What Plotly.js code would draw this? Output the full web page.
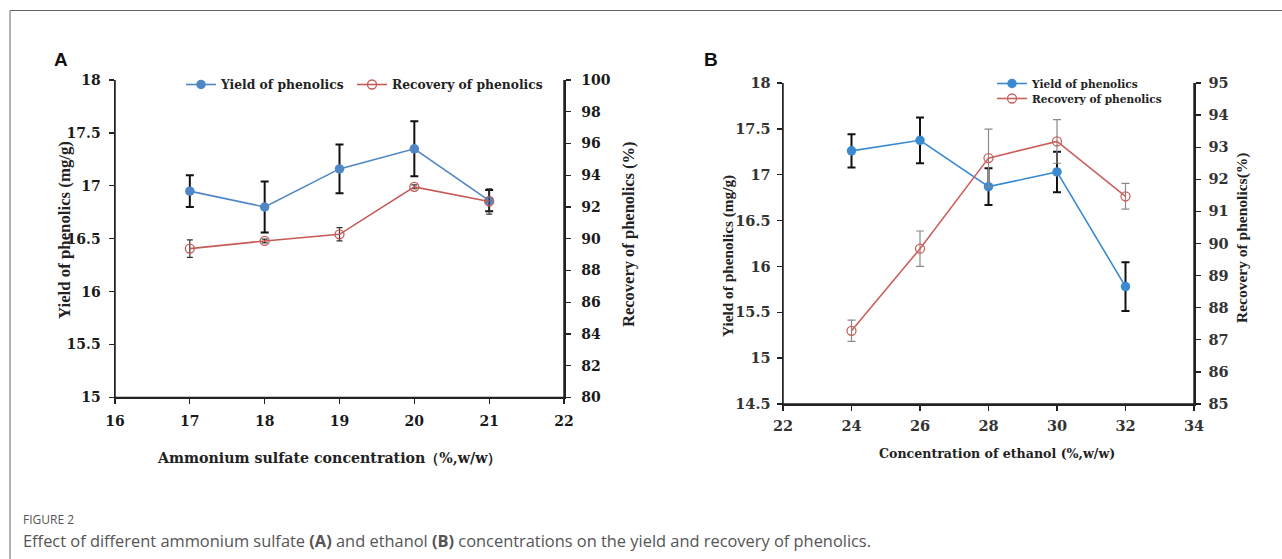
<!DOCTYPE html>
<html>
<head>
<meta charset="utf-8">
<script src="https://cdn.plot.ly/plotly-3.0.1.min.js"></script>
<style>
  html, body { margin: 0; padding: 0; background: #fff; }
  #chart { width: 1282px; height: 559px; }
</style>
</head>
<body>
<div id="chart"></div>
<script>
// ---------- Data ----------
// Panel A: ammonium sulfate concentration (%, w/w)
const ammoniumSulfate = [17, 18, 19, 20, 21];
const yieldA = [16.95, 16.80, 17.16, 17.35, 16.86];
const yieldAErr = [0.15, 0.24, 0.23, 0.26, 0.10];
const recoveryA = [89.38, 89.86, 90.28, 93.27, 92.35];
const recoveryAErr = [0.55, 0.12, 0.42, 0.12, 0.80];

// Panel B: ethanol concentration (%, w/w)
const ethanol = [24, 26, 28, 30, 32];
const yieldB = [17.26, 17.375, 16.87, 17.03, 15.78];
const yieldBErr = [0.18, 0.25, 0.20, 0.22, 0.265];
const recoveryB = [87.28, 89.84, 92.66, 93.18, 91.47];
const recoveryBErr = [0.33, 0.55, 0.90, 0.68, 0.40];

// Tick labels
const xTicksA = [16, 17, 18, 19, 20, 21, 22];
const yTicksA = [15, 15.5, 16, 16.5, 17, 17.5, 18];
const y2TicksA = [80, 82, 84, 86, 88, 90, 92, 94, 96, 98, 100];
const xTicksB = [22, 24, 26, 28, 30, 32, 34];
const yTicksB = [14.5, 15, 15.5, 16, 16.5, 17, 17.5, 18];
const y2TicksB = [85, 86, 87, 88, 89, 90, 91, 92, 93, 94, 95];

const seriesNames = ['Yield of phenolics', 'Recovery of phenolics'];

// ---------- Layout helpers ----------
const W = 1282, H = 559;
const px = x => x / W;
const py = y => 1 - y / H;
const SERIF = '"Liberation Serif", "Times New Roman", serif';
const WIDE = '"DejaVu Serif", "Liberation Serif", serif';
const SANS = '"Open Sans", "Noto Sans", sans-serif';

const blueA = '#4f86c6', redA = '#c55a57';
const blueB = '#3a8ad2', redB = '#c9615e';

const traces = [
  {
    x: ammoniumSulfate, y: yieldA, name: seriesNames[0], type: 'scatter', mode: 'lines+markers',
    xaxis: 'x', yaxis: 'y', legend: 'legend',
    line: { color: blueA, width: 1.6 },
    marker: { color: blueA, size: 9.5, symbol: 'circle' },
    error_y: { type: 'data', array: yieldAErr, visible: true, color: '#111', thickness: 2, width: 4 }
  },
  {
    x: ammoniumSulfate, y: recoveryA, name: seriesNames[1], type: 'scatter', mode: 'lines+markers',
    xaxis: 'x', yaxis: 'y2', legend: 'legend2',
    line: { color: redA, width: 1.6 },
    marker: { color: redA, size: 9, symbol: 'circle-open', line: { width: 1.3 } },
    error_y: { type: 'data', array: recoveryAErr, visible: true, color: '#333', thickness: 1.2, width: 3 }
  },
  {
    x: ethanol, y: yieldB, name: seriesNames[0], type: 'scatter', mode: 'lines+markers',
    xaxis: 'x2', yaxis: 'y3', legend: 'legend3',
    line: { color: blueB, width: 1.6 },
    marker: { color: blueB, size: 9.5, symbol: 'circle' },
    error_y: { type: 'data', array: yieldBErr, visible: true, color: '#111', thickness: 2, width: 4 }
  },
  {
    x: ethanol, y: recoveryB, name: seriesNames[1], type: 'scatter', mode: 'lines+markers',
    xaxis: 'x2', yaxis: 'y4', legend: 'legend4',
    line: { color: redB, width: 1.6 },
    marker: { color: redB, size: 9, symbol: 'circle-open', line: { width: 1.3 } },
    error_y: { type: 'data', array: recoveryBErr, visible: true, color: '#8a8a8a', thickness: 1.2, width: 4 }
  }
];

function axis(extra) {
  return Object.assign({
    showgrid: false, zeroline: false, showline: true, linecolor: '#222', linewidth: 1.5,
    ticks: 'outside', ticklen: 5, tickwidth: 1.3, tickcolor: '#222',
    tickfont: { family: WIDE, size: 14, color: '#1a1a1a', weight: 'bold' },
    tickmode: 'array', fixedrange: true
  }, extra);
}
const tickFontB = { family: WIDE, size: 14.5, color: '#333', weight: 'bold' };

function legendAt(x, yTop, size) {
  return {
    orientation: 'v', x: px(x), y: py(yTop), xanchor: 'left', yanchor: 'top',
    bgcolor: 'rgba(0,0,0,0)', borderwidth: 0,
    font: { family: WIDE, size: size, color: '#222', weight: 'bold' },
    itemclick: false, itemdoubleclick: false
  };
}

// Axis frame lines (left, bottom, right) drawn on each panel's axis domain
function frame(xr, yr) {
  const ln = { color: '#222', width: 1.5 };
  return [
    { type: 'line', xref: xr + ' domain', yref: yr + ' domain', x0: 0, x1: 0, y0: 0, y1: 1, line: ln, layer: 'below' },
    { type: 'line', xref: xr + ' domain', yref: yr + ' domain', x0: 0, x1: 1, y0: 0, y1: 0, line: ln, layer: 'below' },
    { type: 'line', xref: xr + ' domain', yref: yr + ' domain', x0: 1, x1: 1, y0: 0, y1: 1, line: ln, layer: 'below' }
  ];
}

const layout = {
  width: W, height: H,
  margin: { l: 0, r: 0, t: 0, b: 0 },
  paper_bgcolor: '#fff', plot_bgcolor: 'rgba(0,0,0,0)',
  showlegend: true,
  xaxis: axis({ domain: [px(115), px(564)], range: [16, 22], anchor: 'y', ticklabelstandoff: 5,
    tickvals: xTicksA, ticktext: xTicksA.map(String) }),
  yaxis: axis({ domain: [py(397.5), py(80)], range: [15, 18], anchor: 'x', ticklabelstandoff: 5,
    tickvals: yTicksA, ticktext: yTicksA.map(String) }),
  yaxis2: axis({ domain: [py(397.5), py(80)], range: [80, 100], anchor: 'x', overlaying: 'y', side: 'right',
    ticklabelstandoff: 8, tickvals: y2TicksA, ticktext: y2TicksA.map(String) }),
  xaxis2: axis({ domain: [px(783), px(1194)], range: [22, 34], anchor: 'y3', ticklabelstandoff: 3,
    tickvals: xTicksB, ticktext: xTicksB.map(String), tickfont: tickFontB }),
  yaxis3: axis({ domain: [py(404), py(83)], range: [14.5, 18], anchor: 'x2', ticklabelstandoff: 3,
    tickvals: yTicksB, ticktext: yTicksB.map(String), tickfont: tickFontB }),
  yaxis4: axis({ domain: [py(404), py(83)], range: [85, 95], anchor: 'x2', overlaying: 'y3', side: 'right',
    ticklabelstandoff: 5, tickvals: y2TicksB, ticktext: y2TicksB.map(String), tickfont: tickFontB }),
  legend: legendAt(181, 70, 12.3),
  legend2: legendAt(352, 70, 12.3),
  legend3: legendAt(992, 69, 10.6),
  legend4: legendAt(992, 84, 10.6),
  shapes: [
    { type: 'line', xref: 'paper', yref: 'paper', x0: px(10), x1: 1.01, y0: py(10.5), y1: py(10.5),
      line: { color: '#666', width: 1 } },
    { type: 'line', xref: 'paper', yref: 'paper', x0: px(10), x1: px(10), y0: py(10.5), y1: -0.01,
      line: { color: '#666', width: 1 } }
  ].concat(frame('x', 'y'), frame('x2', 'y3')),
  annotations: [
    // Panel letters
    { text: '<b>A</b>', x: px(61), y: py(59) },
    { text: '<b>B</b>', x: px(711), y: py(59) },
  ].map(a => Object.assign(a, { xref: 'paper', yref: 'paper', xanchor: 'center', yanchor: 'middle', showarrow: false,
      font: { family: '"Liberation Sans", Arial, sans-serif', size: 19, color: '#111' } })).concat([
    // Panel A axis titles
    { text: '<b>Ammonium sulfate concentration（%,w/w）</b>', x: px(329), y: py(458), size: 14.2, fam: WIDE },
    { text: '<b>Yield of phenolics (mg/g)</b>', x: px(64), y: py(230), size: 16.8, textangle: -90, fam: SERIF },
    { text: '<b>Recovery of phenolics (%)</b>', x: px(628), y: py(234), size: 16.5, textangle: -90, fam: SERIF },
    // Panel B axis titles
    { text: '<b>Concentration of ethanol (%,w/w)</b>', x: px(997), y: py(453), size: 12.6, fam: WIDE },
    { text: '<b>Yield of phenolics (mg/g)</b>', x: px(728), y: py(256), size: 15.3, textangle: -90, fam: SERIF },
    { text: '<b>Recovery of phenolics(%)</b>', x: px(1242), y: py(238), size: 15.5, textangle: -90, fam: SERIF }
  ].map(a => {
    const s = a.size, f = a.fam; delete a.size; delete a.fam;
    return Object.assign(a, { xref: 'paper', yref: 'paper', xanchor: 'center', yanchor: 'middle', showarrow: false,
      font: { family: f, size: s, color: '#222' } });
  })).concat([
    // Caption
    { text: 'FIGURE 2', x: px(21), y: py(519), size: 12 },
    { text: 'Effect of different ammonium sulfate <b>(A)</b> and ethanol <b>(B)</b> concentrations on the yield and recovery of phenolics.',
      x: px(21), y: py(540), size: 16.4 }
  ].map(a => {
    const s = a.size; delete a.size;
    return Object.assign(a, { xref: 'paper', yref: 'paper', xanchor: 'left', yanchor: 'middle', showarrow: false,
      font: { family: SANS, size: s, color: '#555' } });
  }))
};

Plotly.newPlot('chart', traces, layout, { displayModeBar: false, staticPlot: true });
</script>
</body>
</html>
